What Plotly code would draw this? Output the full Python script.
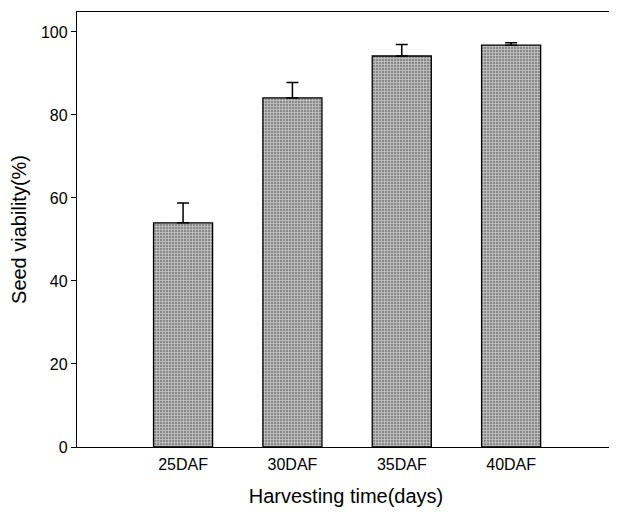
import plotly.graph_objects as go

categories = ["25DAF", "30DAF", "35DAF", "40DAF"]
viability = [54.0, 84.1, 94.2, 96.8]
errors = [4.8, 3.7, 2.8, 0.6]
y_ticks = [0, 20, 40, 60, 80, 100]

fig = go.Figure()
fig.add_trace(go.Bar(
    x=categories, y=viability,
    width=0.54,
    marker=dict(
        color="#8a8a8a",
        line=dict(color="#000000", width=1.3),
        pattern=dict(shape="+", fgcolor="#ffffff", size=3, solidity=0.45),
    ),
    error_y=dict(type="data", array=errors, symmetric=False, arrayminus=[0]*4,
                 color="#000000", thickness=1.5, width=6, visible=True),
))

fig.update_layout(
    width=609, height=509,
    margin=dict(l=69, r=2, t=4, b=70),
    plot_bgcolor="white", paper_bgcolor="white",
    showlegend=False,
    font=dict(family="Liberation Sans, Arial, sans-serif", color="#000000"),
)
fig.update_xaxes(
    type="category", range=[-0.97, 3.95],
    showline=True, linecolor="#000000", linewidth=1.3, mirror=True,
    ticks="", showgrid=False,
    tickfont=dict(size=16), ticklabelstandoff=3,
    title=dict(text="Harvesting time(days)", font=dict(size=20), standoff=16),
)
fig.update_yaxes(
    range=[0, 104.8], tickvals=y_ticks,
    showline=True, linecolor="#000000", linewidth=1.3, mirror=True,
    ticks="outside", ticklen=5, tickcolor="#000000", tickwidth=1.3,
    showgrid=False, zeroline=False,
    tickfont=dict(size=16),
    title=dict(text="Seed viability(%)", font=dict(size=20), standoff=16),
)

fig.write_html("out.html")
